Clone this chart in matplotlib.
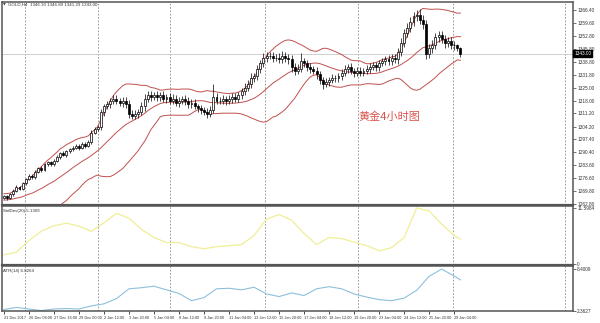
import numpy as np
import pandas as pd
import matplotlib
matplotlib.use("Agg")
import matplotlib.pyplot as plt

plt.rcParams["font.family"] = ["Liberation Sans", "DejaVu Sans"]

# closes of the bars before the visible window (needed for the Bollinger warm-up)
pre_closes = [1264, 1262, 1265, 1263, 1266, 1264, 1262, 1265, 1267, 1264,
              1263, 1266, 1265, 1263, 1266, 1268, 1265, 1267, 1266]

# GOLD H4 closes, 147 bars from 21 Dec 2017
closes = [1267, 1266, 1268, 1270, 1272, 1271, 1274, 1276, 1278, 1277,
          1280, 1282, 1281, 1284, 1285, 1284, 1286, 1288, 1290, 1289,
          1291, 1292, 1293, 1294, 1293, 1295, 1294, 1296, 1301, 1303,
          1304, 1312, 1315, 1316, 1318, 1319, 1318, 1317, 1318, 1316,
          1311, 1310, 1311, 1312, 1315, 1319, 1321, 1320, 1321, 1320,
          1321, 1319, 1320, 1318, 1319, 1317, 1318, 1319, 1318, 1316,
          1317, 1315, 1314, 1313, 1312, 1311, 1313, 1320, 1318, 1318,
          1319, 1318, 1319, 1320, 1319, 1321, 1323, 1325, 1327, 1330,
          1331, 1335, 1338, 1341, 1342, 1342, 1341, 1341, 1340, 1342,
          1341, 1340, 1336, 1334, 1335, 1339, 1338, 1336, 1335, 1334,
          1332, 1329, 1327, 1328, 1329, 1330, 1330, 1331, 1333, 1335,
          1336, 1334, 1333, 1334, 1333, 1334, 1335, 1336, 1337, 1336,
          1338, 1339, 1340, 1339, 1341, 1340, 1344, 1349, 1354, 1357,
          1360, 1363, 1364, 1361, 1359, 1343, 1346, 1348, 1352, 1353,
          1351, 1349, 1350, 1348, 1347.5, 1346.3, 1343.0]

wick_up = [0.6, 0.8, 0.5, 0.7, 0.9, 0.6, 0.8, 0.5, 0.9, 0.7,
           0.8, 0.6, 0.9, 0.7, 1.0, 0.6, 0.8, 0.9, 0.7, 1.1,
           0.8, 0.9, 0.7, 1.0, 0.8, 1.2, 0.9, 0.8, 1.5, 1.0,
           1.2, 1.8, 1.5, 2.0, 1.6, 1.8, 2.2, 1.5, 1.9, 2.1,
           2.5, 1.8, 2.0, 1.6, 2.2, 2.8, 2.0, 2.4, 1.8, 2.2,
           1.9, 2.3, 1.7, 2.0, 2.4, 1.8, 2.1, 1.6, 2.2, 1.9,
           1.7, 2.0, 1.5, 1.8, 1.6, 2.2, 1.9, 7.0, 2.3, 1.8,
           2.0, 1.7, 2.1, 1.9, 2.2, 1.8, 2.0, 2.4, 1.9, 2.6,
           2.0, 2.3, 1.8, 2.5, 2.0, 1.9, 2.2, 1.7, 2.4, 2.8,
           2.0, 1.8, 2.2, 1.9, 2.4, 4.5, 2.0, 1.8, 2.1, 1.7,
           2.2, 1.9, 1.8, 2.0, 1.7, 2.1, 1.9, 1.6, 2.0, 2.3,
           1.8, 2.0, 1.7, 1.9, 2.1, 1.6, 1.8, 2.0, 1.7, 1.9,
           1.8, 2.0, 1.6, 2.2, 1.9, 2.1, 2.0, 2.4, 2.2, 2.6,
           2.5, 2.3, 2.4, 2.8, 2.6, 2.0, 2.5, 2.2, 2.4, 2.1,
           2.3, 2.0, 2.2, 1.9, 1.8, 0.6, 0.59]

wick_dn = [0.7, 0.9, 0.6, 0.8, 0.5, 0.9, 0.7, 0.8, 0.6, 0.9,
           0.7, 0.8, 1.0, 0.6, 0.9, 0.7, 1.0, 0.8, 0.9, 0.7,
           1.0, 0.8, 0.9, 0.7, 1.1, 0.8, 1.0, 0.9, 1.2, 1.0,
           1.4, 1.6, 2.0, 1.5, 1.8, 1.7, 2.0, 1.6, 2.2, 1.8,
           2.4, 2.0, 1.8, 2.1, 1.7, 2.3, 1.9, 2.2, 1.8, 2.0,
           2.1, 1.8, 2.2, 1.9, 1.7, 2.0, 2.3, 1.8, 2.1, 1.9,
           2.0, 1.6, 1.9, 2.1, 1.8, 2.4, 1.7, 1.5, 2.0, 1.9,
           1.8, 2.1, 1.6, 2.0, 1.9, 1.7, 2.2, 1.8, 2.0, 2.3,
           2.1, 1.9, 2.4, 2.0, 2.2, 1.8, 2.3, 2.0, 2.1, 1.9,
           2.2, 2.4, 2.6, 2.3, 2.0, 1.8, 2.1, 1.9, 2.2, 2.0,
           2.3, 2.1, 2.5, 1.9, 2.0, 1.8, 2.2, 1.9, 1.7, 2.0,
           2.1, 1.9, 2.2, 1.8, 2.0, 1.7, 1.9, 2.1, 1.8, 2.0,
           1.9, 1.7, 2.1, 1.8, 2.0, 1.9, 2.2, 2.0, 2.3, 2.1,
           2.4, 2.2, 2.6, 2.3, 2.5, 2.8, 2.4, 2.6, 2.2, 2.5,
           2.3, 2.6, 2.1, 2.4, 2.2, 2.0, 1.71]

# indicator readings, one every 4 bars (plus the last bar)
ind_bars = list(range(0, 145, 4)) + [146]
stddev_vals = [1.90, 2.45, 4.85, 6.79, 7.91, 8.44, 7.85, 6.75, 8.50, 10.50,
               9.49, 7.17, 5.49, 4.43, 4.43, 3.59, 3.16, 3.59, 3.80, 4.01,
               5.91, 9.28, 10.23, 9.07, 6.33, 4.01, 5.49, 5.27, 4.54, 3.80,
               2.74, 3.38, 5.49, 11.60, 10.97, 8.23, 5.91, 5.13]
atr_vals = [2.51, 2.82, 2.59, 2.36, 2.59, 2.66, 2.59, 3.04, 3.34, 4.10,
            5.53, 5.69, 5.91, 5.38, 4.85, 3.80, 4.25, 5.53, 5.61, 5.38,
            5.76, 4.78, 4.40, 4.93, 4.55, 5.53, 5.84, 5.53, 4.78, 4.33,
            3.95, 3.80, 4.18, 5.31, 7.35, 8.40, 7.40, 6.83]

# weekly separators (bar index of week start)
week_starts = [6.7, 30, 53, 83.4, 113.4, 143.5, 179.5]

price_ticks = [1366.40, 1359.60, 1352.80, 1345.80, 1338.80, 1331.80, 1325.00, 1318.00,
               1311.20, 1304.20, 1297.40, 1290.40, 1283.60, 1276.60, 1269.80, 1262.80]
time_labels = ["21 Dec 2017", "26 Dec 08:00", "27 Dec 16:00", "29 Dec 00:00", "2 Jan 12:00",
               "3 Jan 20:00", "5 Jan 04:00", "8 Jan 12:00", "9 Jan 20:00", "11 Jan 04:00",
               "12 Jan 12:00", "15 Jan 20:00", "17 Jan 04:00", "18 Jan 12:00", "19 Jan 20:00",
               "23 Jan 04:00", "24 Jan 12:00", "25 Jan 20:00", "29 Jan 04:00"]
last_price = 1343.00

# --- derived series ---
all_closes = pd.Series(pre_closes + closes)
mid = all_closes.rolling(20).mean().values[len(pre_closes):]
sd = all_closes.rolling(20).std(ddof=0).values[len(pre_closes):]
upper = mid + 2 * sd
lower = mid - 2 * sd

c = np.array(closes, dtype=float)
o = np.array([pre_closes[-1]] + closes[:-1], dtype=float)
hi = np.maximum(o, c) + np.array(wick_up)
lo = np.minimum(o, c) - np.array(wick_dn)
x = np.arange(len(c))

fig = plt.figure(figsize=(6, 3.23), dpi=100)
W, H = 600, 323
left, width = 2 / W, 571 / W
ax1 = fig.add_axes([left, 1 - 205 / H, width, 203 / H])
ax2 = fig.add_axes([left, 1 - 265 / H, width, 59 / H])
ax3 = fig.add_axes([left, 1 - 311 / H, width, 45 / H])

for ax in (ax1, ax2, ax3):
    ax.set_xlim(-0.6, 182)
    for s in ax.spines.values():
        s.set_color("#555555")
        s.set_linewidth(1.1)
    for w in week_starts:
        ax.axvline(w, color="#8a8a8a", lw=0.6, ls=(0, (2, 2)), zorder=0)
    ax.yaxis.tick_right()
    ax.tick_params(axis="y", direction="out", length=2, width=0.5,
                   labelsize=3.4, colors="#333333", pad=1)
    ax.tick_params(axis="x", length=0)
    ax.set_xticklabels([])
ax1.spines["bottom"].set_linewidth(1.6)
ax2.spines["bottom"].set_linewidth(1.6)

# main chart
ax1.set_ylim(1262.3, 1370.7)
ax1.set_yticks(price_ticks)
ax1.set_yticklabels([f"{p:.2f}" for p in price_ticks])
ax1.axhline(last_price, color="#c8c8c8", lw=0.6, zorder=0)
ax1.plot(x, upper, color="#c0504d", lw=0.7)
ax1.plot(x, mid, color="#c0504d", lw=0.7)
ax1.plot(x, lower, color="#c0504d", lw=0.7)
ax1.vlines(x, lo, hi, color="black", lw=0.5, zorder=3)
body_bottom = np.minimum(o, c)
body_h = np.abs(c - o)
faces = ["white" if cc >= oo else "black" for oo, cc in zip(o, c)]
ax1.bar(x, body_h, bottom=body_bottom, width=0.62, color=faces,
        edgecolor="black", linewidth=0.5, zorder=4)
ax1.text(1.002, (last_price - 1262.3) / (1370.7 - 1262.3), f"{last_price:.2f}",
         transform=ax1.transAxes, fontsize=3.4, color="white", va="center", ha="left",
         bbox=dict(boxstyle="square,pad=0.2", fc="black", ec="black"))
ax1.text(0.6235, 0.433, "黄金4小时图", transform=ax1.transAxes, fontsize=8,
         color="#d9534f", va="center", ha="left",
         family=["Noto Sans CJK SC", "DejaVu Sans"])

# StdDev
ax2.plot(ind_bars, stddev_vals, color="#f0ee96", lw=0.9)
ax2.set_ylim(-0.2, 12.0)
ax2.set_yticks([11.5984, 0])
ax2.set_yticklabels(["11.5984", "0"])

# ATR
ax3.plot(ind_bars, atr_vals, color="#8cc0dc", lw=0.8)
ax3.set_ylim(2.30, 8.85)
ax3.set_yticks([8.4009, 2.3627])
ax3.set_yticklabels(["8.4009", "2.3627"])
ax3.set_xticks(np.arange(0, 145, 8))
ax3.set_xticklabels(time_labels, fontsize=2.8, color="#333333", ha="left")
ax3.tick_params(axis="x", length=2, width=0.5, pad=1.5)

fig.text(3 / W, 1 - 5 / H, "▼", fontsize=2.5, color="#333333", va="center",
         family="DejaVu Sans")
fig.text(8 / W, 1 - 5 / H, "GOLD,H4  1346.30 1346.89 1341.29 1343.00",
         fontsize=3.2, color="#333333", va="center")
fig.text(3 / W, 1 - 211 / H, "StdDev(20) 5.1309", fontsize=3.2, color="#333333", va="center")
fig.text(3 / W, 1 - 271 / H, "ATR(14) 6.8264", fontsize=3.2, color="#333333", va="center")

fig.savefig("out.png", dpi=100, facecolor="white")
